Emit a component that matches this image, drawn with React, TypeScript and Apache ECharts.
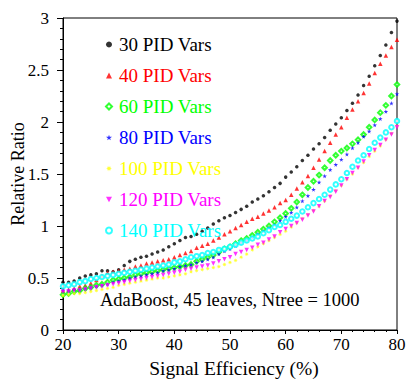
import React, { useEffect, useRef } from "react";
import * as echarts from "echarts";

const efficiency: number[] = [];
for (let e = 20; e <= 80; e++) efficiency.push(e);

const vars30 = [0.46,0.46,0.47,0.50,0.52,0.53,0.54,0.57,0.57,0.56,0.58,0.62,0.66,0.68,0.70,0.71,0.73,0.75,0.77,0.80,0.83,0.86,0.89,0.90,0.92,0.95,0.98,1.02,1.05,1.08,1.10,1.13,1.16,1.19,1.23,1.26,1.29,1.33,1.37,1.41,1.47,1.52,1.57,1.63,1.68,1.74,1.79,1.85,1.92,1.98,2.04,2.11,2.18,2.26,2.35,2.44,2.54,2.64,2.74,2.86,2.97];
const vars40 = [0.38,0.39,0.40,0.42,0.43,0.45,0.48,0.52,0.55,0.56,0.57,0.58,0.59,0.61,0.62,0.64,0.65,0.66,0.67,0.68,0.70,0.72,0.74,0.76,0.79,0.81,0.83,0.86,0.89,0.92,0.95,0.98,1.01,1.04,1.07,1.09,1.12,1.15,1.18,1.22,1.25,1.30,1.36,1.42,1.48,1.56,1.64,1.72,1.80,1.88,1.95,2.04,2.12,2.20,2.28,2.37,2.47,2.56,2.64,2.72,2.79];
const vars60 = [0.34,0.35,0.37,0.38,0.40,0.41,0.43,0.44,0.46,0.48,0.49,0.50,0.51,0.53,0.54,0.55,0.56,0.57,0.58,0.59,0.60,0.61,0.62,0.63,0.66,0.68,0.70,0.72,0.75,0.78,0.80,0.83,0.86,0.88,0.91,0.94,0.97,1.00,1.04,1.08,1.12,1.17,1.23,1.30,1.37,1.43,1.49,1.56,1.63,1.68,1.72,1.75,1.79,1.83,1.88,1.95,2.02,2.09,2.16,2.25,2.36];
const vars80 = [0.38,0.38,0.39,0.39,0.40,0.41,0.42,0.43,0.44,0.46,0.47,0.48,0.50,0.51,0.52,0.53,0.54,0.55,0.57,0.58,0.59,0.61,0.62,0.63,0.65,0.66,0.68,0.70,0.73,0.76,0.78,0.81,0.84,0.86,0.89,0.92,0.95,0.98,1.01,1.05,1.09,1.13,1.18,1.24,1.29,1.35,1.42,1.48,1.54,1.59,1.64,1.69,1.75,1.80,1.86,1.91,1.97,2.03,2.10,2.18,2.27];
const vars100 = [0.33,0.34,0.35,0.35,0.36,0.37,0.38,0.39,0.40,0.41,0.43,0.44,0.45,0.46,0.47,0.48,0.49,0.50,0.50,0.51,0.52,0.53,0.54,0.56,0.57,0.58,0.59,0.60,0.61,0.63,0.65,0.67,0.70,0.73,0.77,0.80,0.83,0.86,0.89,0.92,0.95,0.99,1.03,1.07,1.11,1.15,1.19,1.24,1.29,1.34,1.39,1.45,1.50,1.56,1.61,1.67,1.72,1.77,1.83,1.89,1.96];
const vars120 = [0.37,0.37,0.38,0.38,0.39,0.40,0.41,0.42,0.43,0.44,0.45,0.46,0.47,0.48,0.49,0.50,0.51,0.52,0.53,0.54,0.55,0.56,0.58,0.59,0.60,0.61,0.62,0.64,0.66,0.68,0.70,0.73,0.75,0.77,0.79,0.82,0.84,0.87,0.90,0.94,0.97,1.00,1.03,1.06,1.10,1.14,1.19,1.24,1.28,1.33,1.39,1.45,1.51,1.56,1.62,1.68,1.73,1.78,1.83,1.88,1.95];
const vars140 = [0.42,0.43,0.44,0.46,0.47,0.49,0.50,0.51,0.52,0.53,0.54,0.55,0.56,0.57,0.58,0.59,0.60,0.61,0.62,0.63,0.65,0.66,0.68,0.70,0.71,0.72,0.74,0.75,0.77,0.78,0.80,0.82,0.84,0.86,0.88,0.90,0.93,0.96,0.99,1.01,1.04,1.07,1.10,1.14,1.18,1.22,1.26,1.30,1.35,1.40,1.45,1.51,1.57,1.63,1.68,1.74,1.80,1.85,1.90,1.95,2.01];

const seriesNames = ["30 PID Vars", "40 PID Vars", "60 PID Vars", "80 PID Vars", "100 PID Vars", "120 PID Vars", "140 PID Vars"];
const seriesValues = [vars30, vars40, vars60, vars80, vars100, vars120, vars140];
const seriesColors = ["#000000", "#ff0000", "#00ff00", "#0000ff", "#ffff00", "#ff00ff", "#00ffff"];

const STAR = "path://M50,0 L61,35 L98,35 L68,57 L79,91 L50,70 L21,91 L32,57 L2,35 L39,35 Z";
const ASTER = "path://M50,0 L58,30 L85,15 L70,42 L100,50 L70,58 L85,85 L58,70 L50,100 L42,70 L15,85 L30,58 L0,50 L30,42 L15,15 L42,30 Z";
const DOWN = "path://M0,0 L10,0 L5,9 Z";
const seriesSymbols = ["circle", "triangle", "emptyDiamond", STAR, ASTER, DOWN, "emptyCircle"];
const seriesSizes = [3.5, 4.5, 4.5, 4.5, 4.5, 4.5, 4.5];

const FONT = "'Liberation Serif', 'Times New Roman', serif";

export default function App() {
  const ref = useRef<HTMLDivElement>(null);
  useEffect(() => {
    if (!ref.current) return;
    const chart = echarts.init(ref.current, undefined, { renderer: "svg" });
    chart.setOption({
      animation: false,
      backgroundColor: "#ffffff",
      grid: {
        left: 63, top: 18, right: 12, bottom: 51,
        containLabel: false, outerBoundsMode: "none",
        show: true, borderColor: "#000", borderWidth: 1,
      },
      legend: {
        orient: "vertical",
        left: 100,
        top: 30,
        itemWidth: 6,
        itemHeight: 6,
        itemGap: 12,
        selectedMode: false,
        data: seriesNames.map((n, i) => ({
          name: n,
          icon: seriesSymbols[i],
          textStyle: { color: seriesColors[i] },
        })),
        textStyle: { fontFamily: FONT, fontSize: 19, lineHeight: 19, padding: [0, 0, 0, 2] },
      },
      xAxis: {
        type: "value",
        min: 20,
        max: 80,
        interval: 10,
        name: "Signal Efficiency (%)",
        nameLocation: "middle",
        nameGap: 28,
        nameTextStyle: { fontFamily: FONT, fontSize: 19.5, color: "#000", padding: [0, 0, 0, 8] },
        axisLine: { lineStyle: { color: "#000", width: 1 } },
        axisTick: { length: 4, lineStyle: { color: "#000" } },
        minorTick: { show: true, splitNumber: 5, length: 2, lineStyle: { color: "#000" } },
        axisLabel: { fontFamily: FONT, fontSize: 17, color: "#000", margin: 6 },
        splitLine: { show: false },
      },
      yAxis: {
        type: "value",
        min: 0,
        max: 3,
        interval: 0.5,
        name: "Relative Ratio",
        nameLocation: "middle",
        nameMoveOverlap: false,
        nameGap: 36,
        nameTextStyle: { fontFamily: FONT, fontSize: 18, color: "#000" },
        axisLine: { show: true, lineStyle: { color: "#000", width: 1 } },
        axisTick: { show: true, length: 6, lineStyle: { color: "#000" } },
        minorTick: { show: true, splitNumber: 5, length: 3, lineStyle: { color: "#000" } },
        axisLabel: { fontFamily: FONT, fontSize: 17, color: "#000", margin: 14 },
        splitLine: { show: false },
      },
      graphic: [
        {
          type: "text",
          left: 100,
          top: 290,
          style: { text: "AdaBoost, 45 leaves, Ntree = 1000", font: `18.5px ${FONT}`, fill: "#000" },
        },
      ],
      series: seriesNames.map((n, i) => ({
        name: n,
        type: "scatter",
        symbol: seriesSymbols[i],
        symbolSize: seriesSizes[i],
        itemStyle: { color: seriesColors[i] },
        data: efficiency.map((e, k) => [e, seriesValues[i][k]]),
      })),
    });
    return () => chart.dispose();
  }, []);
  return <div ref={ref} style={{ width: 409, height: 381, position: "absolute", left: 0, top: 0 }} />;
}
